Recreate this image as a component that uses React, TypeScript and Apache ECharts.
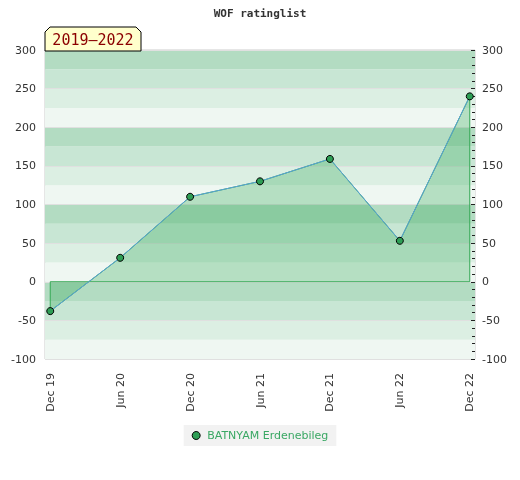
import React, { useEffect, useRef } from "react";
import * as echarts from "echarts";

const categories = ["Dec 19", "Jun 20", "Dec 20", "Jun 21", "Dec 21", "Jun 22", "Dec 22"];
const ratingValues = [-38, 31, 110, 130, 159, 53, 240];
const seriesName = "BATNYAM Erdenebileg";
const periodLabel = "2019–2022";
const titleText = "WOF ratinglist";

const bandColors = ["#eff7f2", "#dcefe3", "#c8e6d4", "#b3dcc2"];

export default function App() {
  const ref = useRef<HTMLDivElement>(null);
  useEffect(() => {
    if (!ref.current) return;
    const chart = echarts.init(ref.current, undefined, { renderer: "svg" });
    const n = ratingValues.length;
    const points = ratingValues.map((v, i) => [i, v]);
    const outline = [[0, 0], ...points, [n - 1, 0], [0, 0]];
    const font = "DejaVu Sans";
    chart.setOption({
      animation: false,
      title: {
        text: titleText,
        left: "center",
        top: 3,
        textStyle: { fontFamily: "DejaVu Sans Mono", fontWeight: "bold", fontSize: 11, color: "#333" },
      },
      legend: {
        top: 425,
        left: "center",
        backgroundColor: "#f2f2f2",
        padding: [5, 8, 5, 8],
        itemWidth: 8,
        itemHeight: 8,
        itemGap: 10,
        textStyle: { fontFamily: font, fontSize: 11, color: "#3aa864", padding: [0, 0, 0, 2] },
        data: [
          {
            name: seriesName,
            icon: "circle",
            itemStyle: { color: "#2e9e55", borderColor: "#000", borderWidth: 1 },
          },
        ],
      },
      grid: {
        left: 45,
        right: 45,
        top: 50,
        bottom: 121,
        show: true,
        borderColor: "#cccccc",
        borderWidth: 1,
        backgroundColor: "transparent",
      },
      xAxis: {
        type: "value",
        min: -0.075,
        max: n - 1 + 0.075,
        axisLine: { show: false },
        axisTick: { show: false },
        splitLine: { show: false },
        axisLabel: {
          customValues: categories.map((_, i) => i),
          rotate: 90,
          margin: 14,
          fontFamily: font,
          fontSize: 11,
          color: "#333",
          formatter: (v: number) => categories[Math.round(v)] ?? "",
        },
      },
      yAxis: [
        {
          type: "value",
          position: "left",
          min: -100,
          max: 300,
          interval: 50,
          z: 1,
          axisLine: { show: false },
          axisTick: { show: false },
          axisLabel: { margin: 9, fontFamily: font, fontSize: 11, color: "#333" },
          splitLine: { show: true, lineStyle: { color: "#e0e0e0", width: 1 } },
        },
        {
          type: "value",
          position: "right",
          min: -100,
          max: 300,
          interval: 50,
          z: 1,
          axisLine: { show: false },
          axisTick: { show: true, inside: true, length: 4, lineStyle: { color: "#222" } },
          minorTick: { show: true, splitNumber: 5, length: 3, lineStyle: { color: "#222" } },
          axisLabel: { margin: 7, fontFamily: font, fontSize: 11, color: "#333" },
          splitLine: { show: false },
        },
        {
          type: "value",
          position: "left",
          min: -100,
          max: 300,
          interval: 25,
          z: 0,
          axisLine: { show: false },
          axisTick: { show: false },
          axisLabel: { show: false },
          splitLine: { show: false },
          splitArea: { show: true, areaStyle: { color: bandColors } },
        },
      ],
      graphic: [
        {
          type: "polygon",
          z: 100,
          shape: {
            points: [
              [45, 51],
              [45, 32],
              [50, 27],
              [136, 27],
              [141, 32],
              [141, 51],
            ],
          },
          style: { fill: "#ffffcc", stroke: "#000", lineWidth: 1 },
        },
        {
          type: "text",
          z: 101,
          x: 93,
          y: 40,
          style: {
            text: periodLabel,
            fill: "#8b0000",
            font: '15px "DejaVu Sans Mono"',
            textAlign: "center",
            textVerticalAlign: "middle",
          },
        },
      ],
      series: [
        {
          type: "line",
          name: "area",
          yAxisIndex: 0,
          data: outline,
          symbol: "none",
          silent: true,
          z: 2,
          lineStyle: { color: "#34a855", width: 1 },
          areaStyle: { color: "rgba(34,160,72,0.4)", origin: 0 },
        },
        {
          type: "line",
          name: seriesName,
          yAxisIndex: 0,
          data: points,
          z: 3,
          symbol: "circle",
          symbolSize: 7,
          lineStyle: { color: "#5aa0d8", width: 1 },
          itemStyle: { color: "#2e9e55", borderColor: "#000", borderWidth: 1 },
        },
      ],
    });
    return () => chart.dispose();
  }, []);
  return (
    <div
      ref={ref}
      style={{ position: "fixed", left: 0, top: 0, width: 520, height: 480 }}
    />
  );
}
